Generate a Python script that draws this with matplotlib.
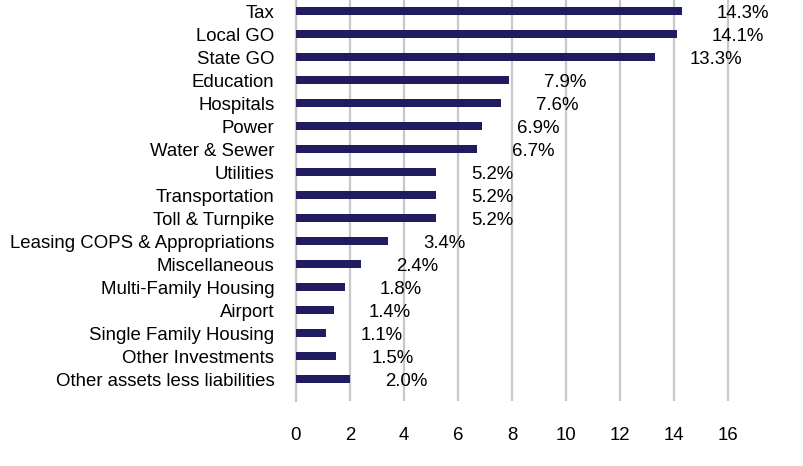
import matplotlib
matplotlib.use("Agg")
import matplotlib.pyplot as plt

categories = ["Tax", "Local GO", "State GO", "Education", "Hospitals", "Power",
              "Water & Sewer", "Utilities", "Transportation", "Toll & Turnpike",
              "Leasing COPS & Appropriations", "Miscellaneous", "Multi-Family Housing",
              "Airport", "Single Family Housing", "Other Investments",
              "Other assets less liabilities"]
values = [14.3, 14.1, 13.3, 7.9, 7.6, 6.9, 6.7, 5.2, 5.2, 5.2, 3.4, 2.4, 1.8, 1.4, 1.1, 1.5, 2.0]
labels = [f"{v:.1f}%" for v in values]
xticks = [0, 2, 4, 6, 8, 10, 12, 14, 16]

plt.rcParams['font.family'] = ['Liberation Sans', 'DejaVu Sans']

W, H = 804, 466
fig = plt.figure(figsize=(W / 100, H / 100), dpi=100)
x0, x1 = 296, 780
ytop, ybot = 0, 401
ax = fig.add_axes([x0 / W, 1 - ybot / H, (x1 - x0) / W, (ybot - ytop) / H])

xmax = (x1 - x0) / 27.0
pos = list(range(len(categories)))
ax.barh(pos, values, height=0.35, color="#211B5F", zorder=3)
ax.set_xlim(0, xmax)
ax.set_ylim(16.95, -0.48)
ax.set_yticks(pos)
ax.set_yticklabels(categories, fontsize=13.4, color="#000000")
ax.set_xticks(xticks)
ax.set_xticklabels([str(t) for t in xticks], fontsize=13.4)
ax.tick_params(axis="both", length=0)
ax.tick_params(axis="y", pad=15.5)
ax.tick_params(axis="x", pad=19)
ax.grid(axis="x", color="#C8C8C8", linewidth=1.6, zorder=0)
for s in ["top", "right", "bottom"]:
    ax.spines[s].set_visible(False)
ax.spines["left"].set_color("#C8C8C8")
ax.spines["left"].set_linewidth(1.6)

for p, v, lab in zip(pos, values, labels):
    ax.annotate(lab, xy=(v, p), xytext=(35 * 0.72, -1.5), textcoords="offset points",
                ha="left", va="center", fontsize=13.4)

fig.savefig("out.png", dpi=100)
